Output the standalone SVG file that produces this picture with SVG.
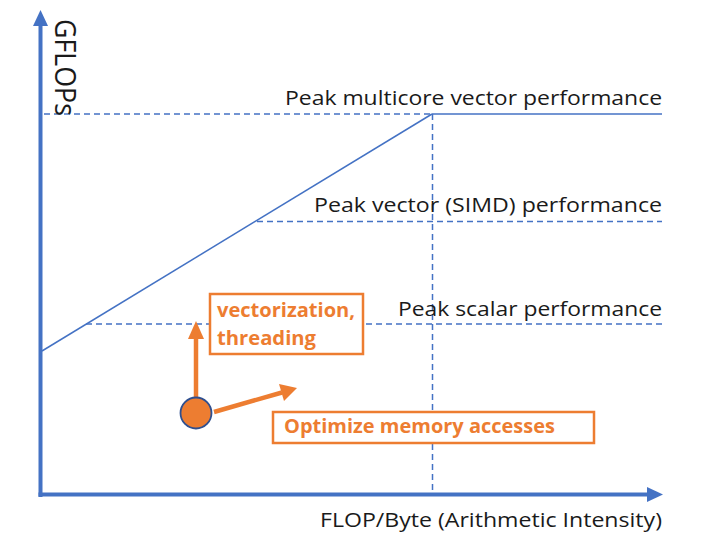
<svg xmlns="http://www.w3.org/2000/svg" width="720" height="555" viewBox="0 0 720 555">
<defs>
<style>
.ax{stroke:#4472C4;stroke-width:4;fill:none}
.ln{stroke:#4472C4;stroke-width:1.5;fill:none}
.dash{stroke:#4472C4;stroke-width:1.5;fill:none;stroke-dasharray:6 4}
.lbl{font-family:"Open Sans","DejaVu Sans",sans-serif;font-size:20px;fill:#1a1a1a}
.olbl{font-family:"Open Sans","DejaVu Sans",sans-serif;font-size:19px;font-weight:bold;fill:#ED7D31}
.obox{fill:#fff;stroke:#ED7D31;stroke-width:2.5}
.oarr{stroke:#ED7D31;stroke-width:4.5;fill:none}
</style>
</defs>
<rect width="720" height="555" fill="#fff"/>
<g id="connectors">
<line class="dash" x1="44" y1="114" x2="432" y2="114"/>
<line class="ln" x1="432" y1="114" x2="662" y2="114"/>
<line class="ln" x1="42" y1="351" x2="432" y2="114"/>
<line class="dash" x1="257" y1="221.5" x2="662" y2="221.5"/>
<line class="dash" x1="86" y1="324" x2="662" y2="324"/>
<line class="dash" x1="432.5" y1="114" x2="432.5" y2="493"/>
<line class="ax" x1="40.5" y1="497" x2="40.5" y2="24"/>
<polygon points="40.5,10 33,26 48,26" fill="#4472C4"/>
<line class="ax" x1="38.5" y1="494.5" x2="649" y2="494.5"/>
<polygon points="663,494.5 647,487 647,502" fill="#4472C4"/>
<line class="oarr" x1="196" y1="398" x2="196" y2="336"/>
<polygon points="196,321 188,339 204,339" fill="#ED7D31"/>
<line class="oarr" x1="214" y1="412" x2="282" y2="392.5"/>
<polygon points="297,388 279,384 284,401" fill="#ED7D31"/>
</g>
<g id="y-title">
<text class="lbl" transform="translate(55,19) rotate(90)" style="font-size:30px" textLength="97" lengthAdjust="spacingAndGlyphs">GFLOPs</text>
</g>
<g id="x-title">
<text class="lbl" x="662" y="527" text-anchor="end" textLength="342" lengthAdjust="spacingAndGlyphs">FLOP/Byte (Arithmetic Intensity)</text>
</g>
<g id="peak-multicore">
<text class="lbl" x="662" y="105" text-anchor="end" textLength="377" lengthAdjust="spacingAndGlyphs">Peak multicore vector performance</text>
</g>
<g id="peak-vector">
<text class="lbl" x="662" y="212" text-anchor="end" textLength="348" lengthAdjust="spacingAndGlyphs">Peak vector (SIMD) performance</text>
</g>
<g id="peak-scalar">
<text class="lbl" x="662" y="316" text-anchor="end" textLength="264" lengthAdjust="spacingAndGlyphs">Peak scalar performance</text>
</g>
<g id="vectorization">
<rect class="obox" x="210" y="294" width="153" height="60"/>
<text class="olbl" x="217" y="317" textLength="138" lengthAdjust="spacingAndGlyphs">vectorization,</text>
<text class="olbl" x="217" y="345" textLength="99" lengthAdjust="spacingAndGlyphs">threading</text>
</g>
<g id="point">
<circle cx="196" cy="413" r="15.5" fill="#ED7D31" stroke="#2F4F8F" stroke-width="1.8"/>
</g>
<g id="optimize">
<rect class="obox" x="273" y="412" width="321" height="31"/>
<text class="olbl" x="284" y="433" textLength="271" lengthAdjust="spacingAndGlyphs">Optimize memory accesses</text>
</g>
</svg>
